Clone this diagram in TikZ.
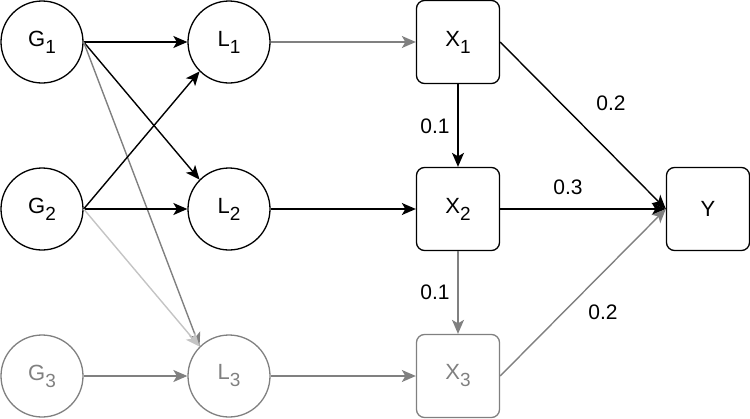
\documentclass[tikz,border=0pt]{standalone}
\usepackage{fontspec}
\setmainfont{Liberation Sans}
\usetikzlibrary{arrows.meta}
\definecolor{greyx}{HTML}{808080}
\definecolor{lightx}{HTML}{C4C4C4}
\newcommand{\sbs}[1]{\raisebox{-7pt}{\fontsize{19}{19}\selectfont #1}}
\tikzset{
  ar/.style={-{Stealth[length=14pt,width=12pt,inset=3.5pt]},line width=1.4pt},
  vnode/.style={circle,draw,line width=1.3pt,minimum size=82pt,inner sep=0pt,font=\fontsize{22}{25}\selectfont},
  box/.style={draw,rounded corners=8pt,line width=1.3pt,minimum size=83pt,inner sep=0pt,font=\fontsize{22}{25}\selectfont},
  wt/.style={font=\fontsize{21}{24}\selectfont,inner sep=1pt}
}
\begin{document}
\begin{tikzpicture}[x=1pt,y=-1pt]
\useasboundingbox (0,0) rectangle (750,418);
% latent and observed nodes
\node[vnode] (G1) at (42,42) {G\sbs{1}};
\node[vnode] (G2) at (42,209) {G\sbs{2}};
\node[vnode,greyx] (G3) at (42,376) {G\sbs{3}};
\node[vnode] (L1) at (229,42) {L\sbs{1}};
\node[vnode] (L2) at (229,209) {L\sbs{2}};
\node[vnode,greyx] (L3) at (229,376) {L\sbs{3}};
\node[box] (X1) at (458,42) {X\sbs{1}};
\node[box] (X2) at (458,209) {X\sbs{2}};
\node[box,greyx] (X3) at (458,376) {X\sbs{3}};
\node[box] (Y) at (708,209) {Y};
% edges
\draw[ar] (G1.east) -- (L1);
\draw[ar] (G1.east) -- (L2.north west);
\draw[ar,greyx] (G1.east) -- (L3.north west);
\draw[ar] (G2.east) -- (L1.south west);
\draw[ar] (G2.east) -- (L2);
\draw[ar,lightx] (G2.east) -- (L3.north west);
\draw[ar,greyx] (G3) -- (L3);
\draw[ar,greyx] (L1) -- (X1);
\draw[ar] (L2) -- (X2);
\draw[ar,greyx] (L3) -- (X3);
\draw[ar] (X1) -- (X2);
\draw[ar,greyx] (X2) -- (X3);
\draw[ar] (X1.east) -- (Y.west);
\draw[ar] (X2) -- (Y);
\draw[ar,greyx] (X3.east) -- (Y.west);
% weights
\node[wt] (w12) at (435,126) {0.1};
\node[wt] (w23) at (435,292) {0.1};
\node[wt] (w1y) at (611,103) {0.2};
\node[wt] (w2y) at (568,187) {0.3};
\node[wt] (w3y) at (603,312) {0.2};
\end{tikzpicture}
\end{document}
